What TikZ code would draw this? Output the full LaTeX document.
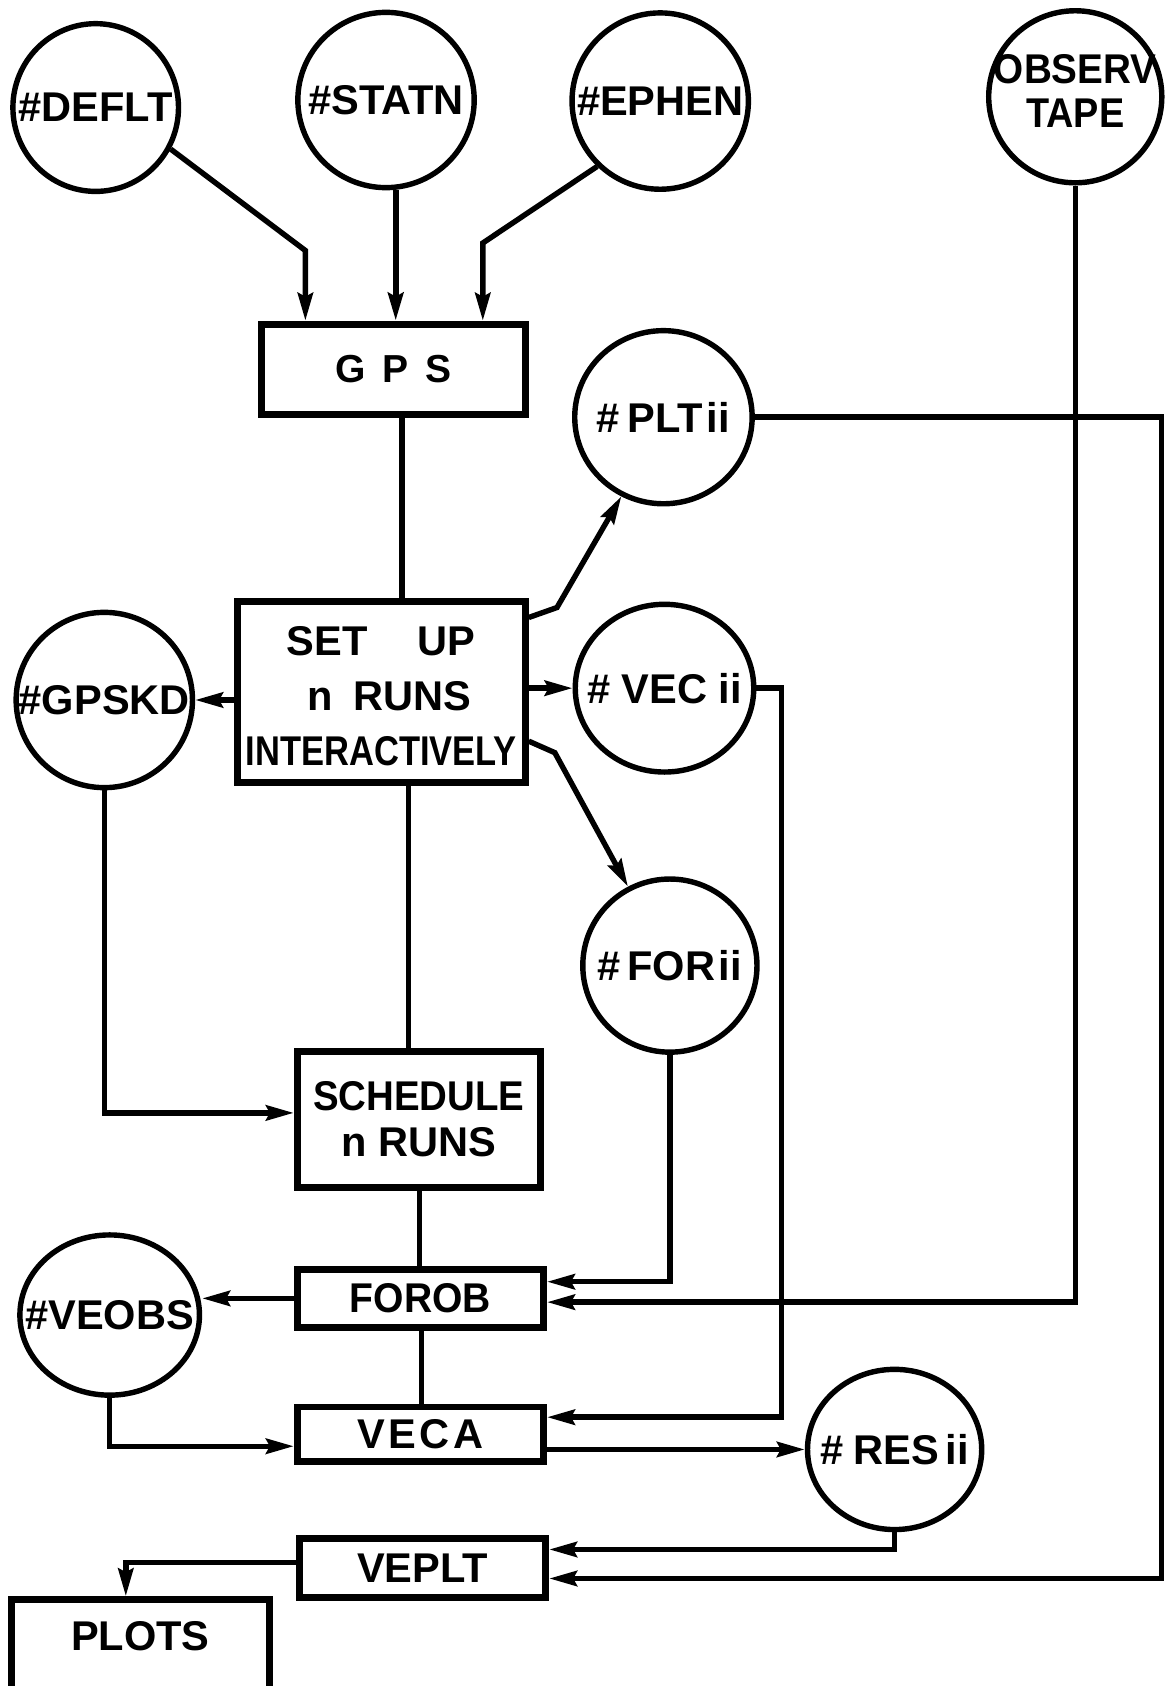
\documentclass[tikz,border=0pt]{standalone}
\usepackage{fontspec}
\setmainfont{Liberation Sans}
\usepackage{graphicx}
\usetikzlibrary{shapes.geometric,arrows.meta,calc}
\newcommand\hsq[2]{\scalebox{#1}[1]{#2}}
\begin{document}
\begin{tikzpicture}[x=0.03cm, y=-0.03cm,
  font=\fontsize{33}{35}\selectfont\bfseries,
  data/.style={ellipse, draw, line width=4.3pt, inner sep=0pt},
  proc/.style={rectangle, draw, line width=5.5pt, inner sep=0pt, align=center},
  link/.style={line width=4.5pt},
  flow/.style={line width=4.3pt, -{Stealth[length=22pt,width=12pt,inset=3pt]}}]
\useasboundingbox (0,0) rectangle (1086,1568);
\clip (0,0) rectangle (1086,1568);

% data sets (circles)
\node[data, minimum width=4.62cm, minimum height=4.68cm] (deflt) at (89,100) {\makebox[0pt]{\#DEFLT}};
\node[data, minimum width=4.92cm, minimum height=4.89cm] (statn) at (359,93) {\makebox[0pt]{\#STATN}};
\node[data, minimum width=4.92cm, minimum height=4.92cm] (ephen) at (614,94) {\makebox[0pt]{\#EPHEN}};
\node[data, minimum width=4.83cm, minimum height=4.80cm] (observ) at (1000,90)
  {\makebox[0pt]{\begin{tabular}{@{}c@{}}\hsq{0.93}{OBSERV}\\\hsq{0.91}{TAPE}\end{tabular}}};
\node[data, minimum width=4.95cm, minimum height=4.83cm] (pltii) at (617,388) {\makebox[0pt]{\#\hspace{6pt}PLT\hspace{3pt}ii}};
\node[data, minimum width=4.92cm, minimum height=4.89cm] (gpskd) at (97,651) {\makebox[0pt]{\#GPSKD}};
\node[data, minimum width=4.98cm, minimum height=4.68cm] (vecii) at (618,640) {\makebox[0pt]{\# VEC ii}};
\node[data, minimum width=4.86cm, minimum height=4.83cm] (forii) at (623,898) {\makebox[0pt]{\#\hspace{5pt}FOR\hspace{3pt}ii}};
\node[data, minimum width=5.01cm, minimum height=4.47cm] (veobs) at (102,1223) {\makebox[0pt]{\#VEOBS}};
\node[data, minimum width=4.86cm, minimum height=4.47cm] (resii) at (832,1348) {\makebox[0pt]{\#\hspace{8pt}RES\hspace{5pt}ii}};

% programs (boxes)
\node[proc, minimum width=7.35cm, minimum height=2.52cm] (gps) at (366,343.5)
  {\fontsize{31}{34}\selectfont G\hspace{13pt}P\hspace{13pt}S};
\node[proc, minimum width=8.04cm, minimum height=5.04cm,
  label={[anchor=center, yshift=-0.21cm, font=\fontsize{33}{44}\selectfont\bfseries]center:{\begin{tabular}{@{}c@{}}SET\hspace{40pt}UP\hspace{29pt}\\\hspace*{13pt}n\hspace{17pt}RUNS\\\hsq{0.83}{INTERACTIVELY}\end{tabular}}}]
  (setup) at (354.5,643.5) {};
\node[proc, minimum width=6.78cm, minimum height=3.81cm, font=\fontsize{33}{37}\selectfont\bfseries] (sched) at (389.5,1041)
  {\hsq{0.925}{SCHEDULE}\\n RUNS};
\node[proc, minimum width=6.87cm, minimum height=1.62cm] (forob) at (391,1207.5) {\hsq{0.94}{FOROB}};
\node[proc, minimum width=6.87cm, minimum height=1.53cm] (veca) at (391,1334) {V\hspace{3pt}E\hspace{3pt}C\hspace{3pt}A};
\node[proc, minimum width=6.87cm, minimum height=1.65cm] (veplt) at (393,1458) {VEPLT};
\node[proc, minimum width=7.2cm, minimum height=4.5cm, anchor=north,
  label={[anchor=center, yshift=-1.12cm]north:PLOTS}] (plots) at (130.5,1484.5) {};

% connectors
\draw[flow] (deflt.-29) -- (284,233) -- (284,0 |- gps.north);
\draw[flow, line width=4.8pt] (368,0 |- statn.south) -- (368,0 |- gps.north);
\draw[flow] (ephen.-134) -- (449,226) -- (449,0 |- gps.north);
\draw[link] (374,0 |- gps.south) -- (374,0 |- setup.north);
\draw[flow] ($(setup.north east)+(0,18)$) -- (518,565) -- (pltii.-118);
\draw[flow] (setup.east |- vecii.west) -- (vecii.west);
\draw[flow] ($(setup.north east)+(0,133)$) -- (516,700) -- (forii.118);
\draw[flow] (setup.west |- gpskd.east) -- (gpskd.east);
\draw[link] (380,0 |- setup.south) -- (380,0 |- sched.north);
\draw[flow] (gpskd.south) -- (gpskd.south |- 0,1035) -- (sched.west |- 0,1035);
\draw[link] (390,0 |- sched.south) -- (390,0 |- forob.north);
\draw[flow] (forii.south) -- (forii.south |- 0,1192) -- (forob.east |- 0,1192);
\draw[flow] (observ.south) -- (observ.south |- 0,1211) -- (forob.east |- 0,1211);
\draw[flow] (forob.west) -- (veobs.east |- forob.west);
\draw[link] (392,0 |- forob.south) -- (392,0 |- veca.north);
\draw[flow] (veobs.south) -- (veobs.south |- 0,1345) -- (veca.west |- 0,1345);
\draw[flow] (vecii.east) -- (vecii.east -| 727,0) -- (727,1318) -- (veca.east |- 0,1318);
\draw[flow] (veca.east |- resii.west) -- (resii.west);
\draw[flow] (resii.south) -- (resii.south |- 0,1441) -- (veplt.east |- 0,1441);
\draw[flow] (pltii.east) -- (pltii.east -| 1080,0) -- (1080,1468) -- (veplt.east |- 0,1468);
\draw[flow] (veplt.west |- 0,1453) -- (117,1453) -- (117,0 |- plots.north);
\end{tikzpicture}
\end{document}
